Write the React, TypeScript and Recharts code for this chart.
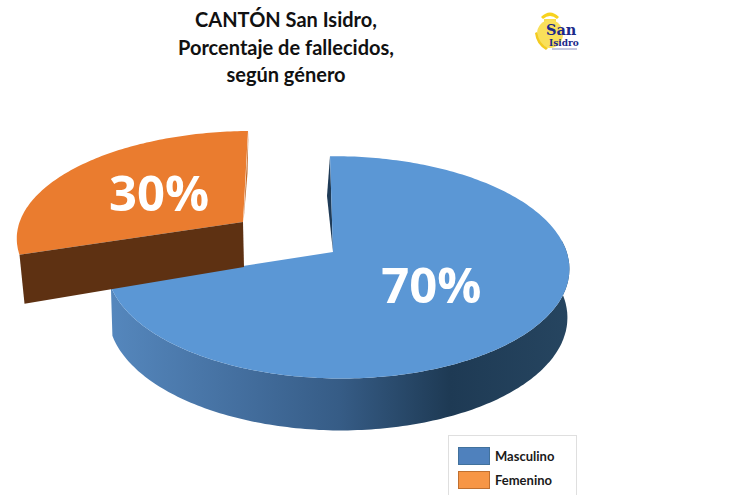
import React from "react";
import { PieChart, Pie, Legend } from "recharts";

const categories = ["Masculino", "Femenino"];
const values = [70, 30];
const topColors = ["#5b97d5", "#ea7c2f"];
const legendColors = ["#4f81bd", "#f79646"];
const legendBorders = ["#41719c", "#c07030"];
const titleLines = ["CANTÓN San Isidro,", "Porcentaje de fallecidos,", "según género"];
const chartData = categories.map((name, i) => ({ name, value: values[i], fill: topColors[i] }));

const K = -0.138;
const M = -0.02;
const B_RATIO = 0.476;
const FONT_TITLE = "Lato, 'Open Sans', sans-serif";

type Look = { ox: number; oy: number; shear: number; sx: number; sy: number; labelR: number };
const looks: Record<string, Look> = {
  Masculino: { ox: 0, oy: 0, shear: 3, sx: 1, sy: 1, labelR: 0.5 },
  Femenino: { ox: -90, oy: -30, shear: -5, sx: 0.995, sy: 0.95, labelR: 0.485 },
};

function project(thetaDeg: number, cx: number, cy: number, a: number, r = 1, look: Look) {
  const t = (thetaDeg * Math.PI) / 180;
  const u = Math.sin(t) * r;
  const v = -Math.cos(t) * r;
  const w = 1 + K * v + M * u;
  return {
    x: cx + look.ox + (look.sx * a * u) / w + look.shear * v,
    y: cy + look.oy + (look.sy * a * B_RATIO * v) / w,
    v,
  };
}

const pts = (list: { x: number; y: number }[]) =>
  list.map((p, i) => `${i ? "L" : "M"}${p.x.toFixed(1)} ${p.y.toFixed(1)}`).join(" ");

function Slice(props: any) {
  const { cx, cy, outerRadius, startAngle, endAngle, fill, name } = props;
  const look = looks[name];
  const th0 = 90 - startAngle;
  const th1 = 90 - endAngle;
  const arc: { x: number; y: number }[] = [];
  for (let th = th0; th <= th1 + 0.001; th += 1) arc.push(project(th, cx, cy, outerRadius, 1, look));
  const apex = project(0, cx, cy, outerRadius, 0, look);
  const first = arc[0];
  const last = arc[arc.length - 1];
  const surface = pts([apex, ...arc]) + " Z";

  if (name === "Masculino") {
    const top: { x: number; y: number }[] = [];
    const bottom: { x: number; y: number }[] = [];
    for (let th = 84; th <= th1 + 0.001; th += 1) {
      const p = project(th, cx, cy, outerRadius, 1, look);
      top.push(p);
      bottom.push({ x: p.x + (p.x < cx ? 1.5 : -2), y: p.y + 48 + 4 * p.v });
    }
    const wall = pts([...top, ...bottom.reverse()]) + " Z";
    const mid = { x: first.x - 3, y: (first.y + apex.y) / 2 - 8 };
    return (
      <g>
        <defs>
          <linearGradient id="blueWall" gradientUnits="userSpaceOnUse" x1={110} y1={0} x2={569} y2={0}>
            <stop offset="0" stopColor="#5587bd" />
            <stop offset="0.28" stopColor="#446f9f" />
            <stop offset="0.5" stopColor="#365c86" />
            <stop offset="0.74" stopColor="#1e3a54" />
            <stop offset="1" stopColor="#264560" />
          </linearGradient>
        </defs>
        <path d={wall} fill="url(#blueWall)" />
        <path d={pts([first, mid, apex]) + " Z"} fill="#1f3b57" />
        <path d={surface} fill={fill} />
      </g>
    );
  }

  const wallFace = pts([first, apex, { x: apex.x + 1, y: apex.y + 45 }, { x: first.x + 5, y: first.y + 49 }]) + " Z";
  const midRight = { x: last.x - 1, y: last.y + 42 };
  return (
    <g>
      <path d={pts([last, midRight, apex]) + " Z"} fill="#c26a2b" transform="translate(0.5,0)" />
      <path d={surface} fill={fill} />
      <path d={wallFace} fill="#5e3112" />
    </g>
  );
}

function PercentLabel(props: any) {
  const { cx, cy, outerRadius, midAngle, percent, name } = props;
  const look = looks[name];
  const p = project(90 - midAngle, cx, cy, outerRadius, look.labelR, look);
  return (
    <text
      x={p.x}
      y={p.y}
      dy="0.35em"
      textAnchor="middle"
      fill="#ffffff"
      fontFamily="'Open Sans', sans-serif"
      fontWeight={700}
      fontSize={49}
    >
      {`${Math.round(percent * 100)}%`}
    </text>
  );
}

function LegendBox() {
  return (
    <div
      style={{
        width: 129,
        height: 60,
        boxSizing: "border-box",
        border: "1px solid #dfdfdf",
        borderBottom: "none",
        background: "#fff",
        padding: "8px 0 0 9px",
        fontFamily: FONT_TITLE,
        fontWeight: 700,
        fontSize: 13,
        color: "#1a1a1a",
        textAlign: "left",
      }}
    >
      {categories.map((c, i) => (
        <div key={c} style={{ display: "flex", alignItems: "center", height: 24 }}>
          <span
            style={{
              display: "inline-block",
              width: 32,
              height: 18,
              boxSizing: "border-box",
              background: legendColors[i],
              border: `1px solid ${legendBorders[i]}`,
              marginRight: 5,
            }}
          />
          <span>{c}</span>
        </div>
      ))}
    </div>
  );
}

function Logo() {
  return (
    <svg width={60} height={50} viewBox="0 0 60 50" style={{ position: "absolute", left: 528, top: 8 }}>
      <path d="M13 9 Q22 0 31 9 L29 11 Q22 5 15 11 Z" fill="#f7d21e" />
      <path d="M16 11 H28 V15 H16 Z" fill="#f9df4a" />
      <ellipse cx={22} cy={26} rx={13} ry={14} fill="#f9e05a" />
      <path d="M9 24 Q11 36 20 40 L18 42 Q8 36 7 25 Z" fill="#f3cb20" />
      <text x={18} y={27} fontFamily="'DejaVu Serif', serif" fontWeight={700} fontSize={14.5} fill="#1c2a8a">San</text>
      <text x={21} y={38} fontFamily="'DejaVu Serif', serif" fontWeight={700} fontSize={9} fill="#1c2a8a">Isidro</text>
      <path d="M24 41 H49" stroke="#8a92c0" strokeWidth={1} />
    </svg>
  );
}

export default function App() {
  return (
    <div style={{ position: "absolute", left: 0, top: 0, width: 749, height: 500, background: "#fff", overflow: "hidden" }}>
      <PieChart width={749} height={500} margin={{ top: 0, right: 0, bottom: 0, left: 0 }}>
        <Pie
          data={chartData}
          dataKey="value"
          nameKey="name"
          cx={333}
          cy={252}
          outerRadius={229}
          startAngle={90}
          endAngle={-270}
          stroke="none"
          isAnimationActive={false}
          labelLine={false}
          shape={Slice}
          label={PercentLabel}
        />
        <Legend
          content={() => <LegendBox />}
          layout="horizontal"
          verticalAlign="middle"
          align="center"
          wrapperStyle={{ left: 448, top: 435, width: 129 }}
        />
      </PieChart>
      <div
        style={{
          position: "absolute",
          left: 126,
          top: 6,
          width: 320,
          textAlign: "center",
          fontFamily: FONT_TITLE,
          fontWeight: 700,
          fontSize: 20,
          lineHeight: "27.5px",
          color: "#111",
        }}
      >
        {titleLines.map((l) => (
          <div key={l}>{l}</div>
        ))}
      </div>
      <Logo />
    </div>
  );
}
